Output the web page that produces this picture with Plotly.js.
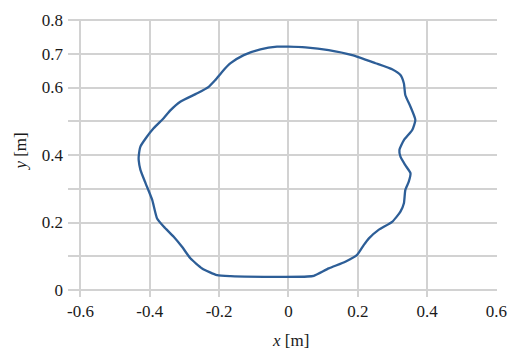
<!DOCTYPE html>
<html>
<head>
<meta charset="utf-8">
<script src="https://cdn.plot.ly/plotly-3.0.1.min.js"></script>
<style>html,body{margin:0;padding:0;background:#fff;}#chart{width:509px;height:351px;}</style>
</head>
<body>
<div id="chart"></div>
<script>
// Contour points (x [m], y [m]), clockwise from the top
const contourX = [0.000, 0.049, 0.116, 0.184, 0.251, 0.299, 0.323, 0.333, 0.337, 0.352, 0.366, 0.357, 0.333, 0.320, 0.323, 0.337, 0.352, 0.347, 0.337, 0.333, 0.323, 0.299, 0.260, 0.232, 0.217, 0.198, 0.164, 0.116, 0.073, 0.055, -0.009, -0.167, -0.206, -0.249, -0.283, -0.307, -0.331, -0.360, -0.379, -0.393, -0.412, -0.427, -0.432, -0.432, -0.427, -0.412, -0.389, -0.360, -0.340, -0.312, -0.263, -0.230, -0.211, -0.191, -0.167, -0.129, -0.081, -0.033, 0.000];
const contourY = [0.721, 0.719, 0.711, 0.696, 0.672, 0.654, 0.637, 0.612, 0.578, 0.543, 0.504, 0.474, 0.444, 0.415, 0.395, 0.370, 0.346, 0.321, 0.296, 0.257, 0.232, 0.202, 0.178, 0.153, 0.133, 0.104, 0.084, 0.064, 0.042, 0.040, 0.039, 0.041, 0.044, 0.064, 0.094, 0.128, 0.158, 0.188, 0.212, 0.267, 0.316, 0.356, 0.385, 0.395, 0.425, 0.449, 0.479, 0.509, 0.533, 0.558, 0.583, 0.602, 0.622, 0.647, 0.672, 0.696, 0.713, 0.721, 0.721];

const xTickVals = [-0.6, -0.4, -0.2, 0, 0.2, 0.4, 0.6];
const xTickText = ['-0.6', '-0.4', '-0.2', '0', '0.2', '0.4', '0.6'];
const yTickVals = [0, 0.1, 0.2, 0.3, 0.4, 0.5, 0.6, 0.7, 0.8];
const yTickText = ['0', '', '0.2', '', '0.4', '', '0.6', '0.7', '0.8'];
const xTitle = '<i>x</i> [m]';
const yTitle = '<i>y</i> [m]';

const font = {family: 'Liberation Serif, Times New Roman, serif', size: 17, color: '#1a1a1a'};

Plotly.newPlot('chart', [{
  x: contourX,
  y: contourY,
  type: 'scatter',
  mode: 'lines',
  line: {color: '#2d5e97', width: 2.3, shape: 'spline', smoothing: 0.5},
  hoverinfo: 'none'
}], {
  width: 509,
  height: 351,
  margin: {l: 68, r: 12, t: 19, b: 54},
  paper_bgcolor: '#ffffff',
  plot_bgcolor: '#ffffff',
  showlegend: false,
  font: font,
  xaxis: {
    range: [-0.6359, 0.6015],
    tickvals: xTickVals,
    ticktext: xTickText,
    showgrid: true,
    gridcolor: '#d2d2d2',
    gridwidth: 2,
    zeroline: false,
    showline: false,
    ticks: '',
    tickfont: font,
    ticklabelstandoff: 2
  },
  yaxis: {
    range: [-0.0207, 0.803],
    tickvals: yTickVals,
    ticktext: yTickText,
    showgrid: true,
    gridcolor: '#d2d2d2',
    gridwidth: 2,
    zeroline: false,
    showline: false,
    ticks: '',
    tickfont: font,
    ticklabelstandoff: 4
  },
  annotations: [
    {text: xTitle, xref: 'paper', yref: 'paper', x: 0.5175, y: -0.1547,
     xanchor: 'center', yanchor: 'middle', showarrow: false, font: font},
    {text: yTitle, xref: 'paper', yref: 'y', x: -0.1096, y: 0.41, textangle: -90,
     xanchor: 'center', yanchor: 'middle', showarrow: false, font: font}
  ]
}, {staticPlot: true});
</script>
</body>
</html>
